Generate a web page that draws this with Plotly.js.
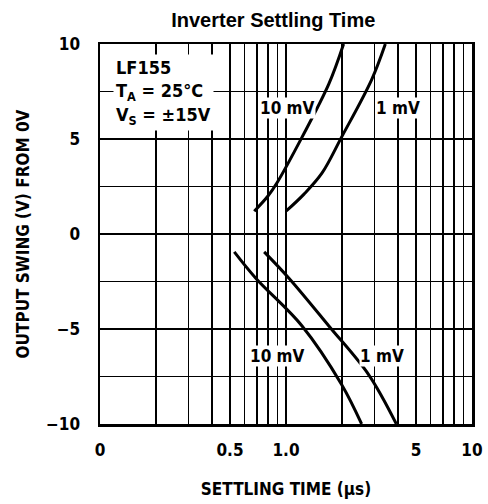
<!DOCTYPE html>
<html>
<head>
<meta charset="utf-8">
<script src="https://cdn.plot.ly/plotly-3.0.1.min.js"></script>
<style>
html,body{margin:0;padding:0;background:#fff;}
</style>
</head>
<body>
<div id="chart" style="width:488px;height:504px;"></div>
<script>
// Data
const upper10mV_x = [0.675, 0.80, 0.895, 1.22, 1.70, 2.04];
const upper10mV_y = [1.2, 2.0, 2.7, 5.1, 7.9, 10];
const upper1mV_x = [1.0, 1.25, 1.56, 1.99, 2.88, 3.42];
const upper1mV_y = [1.2, 2.1, 3.2, 5.1, 8.1, 10];
const lower10mV_x = [0.527, 0.69, 1.22, 1.99, 2.55];
const lower10mV_y = [-0.94, -2.34, -4.84, -7.92, -10];
const lower1mV_x = [0.763, 1.04, 1.70, 2.78, 3.92];
const lower1mV_y = [-0.94, -2.34, -4.84, -7.4, -10];

const xTickVals = [0.1, 0.5, 1, 5, 10];
const xTickText = ["0", "0.5", "1.0", "5", "10"];
const xMinorVals = [0.2,0.3,0.4,0.6,0.7,0.8,0.9,2,3,4,6,7,8,9];
const yTickVals = [-10, -5, 0, 5, 10];
const yTickText = ["\u221210", "\u22125", "0", "5", "10"];

const cond = '"DejaVu Sans Condensed", "DejaVu Sans", sans-serif';
const lineStyle = {color:'#000', width:3, shape:'spline'};

const traces = [
  {x: upper10mV_x, y: upper10mV_y},
  {x: upper1mV_x, y: upper1mV_y},
  {x: lower10mV_x, y: lower10mV_y},
  {x: lower1mV_x, y: lower1mV_y}
].map(t => Object.assign(t, {type:'scatter', mode:'lines', line:lineStyle, hoverinfo:'skip'}));

const lblFont = {family: cond, size: 17, color:'#000'};
function lbl(x, y, t) {
  return {xref:'paper', yref:'paper', x:x, y:y, xanchor:'center', yanchor:'middle',
          text:'<b>'+t+'</b>', showarrow:false, bgcolor:'#fff', font:lblFont, borderpad:0};
}
const layout = {
  width: 488, height: 504,
  margin: {l:100, r:16, t:44, b:80},
  paper_bgcolor:'#fff', plot_bgcolor:'#fff',
  showlegend:false,
  title: {text:'<b>Inverter Settling Time</b>', font:{family:'"Liberation Sans", Arial, sans-serif', size:20, color:'#000'}, x:0.56, xanchor:'center', y:0.96, yanchor:'middle'},
  xaxis: {
    type:'log', range:[-1, 1], tickvals:xTickVals, ticktext:xTickText,
    showgrid:true, gridcolor:'#000', gridwidth:1.5, ticks:'', zeroline:false,
    minor:{tickvals:xMinorVals, showgrid:true, gridcolor:'#000', gridwidth:1.5, ticks:''},
    showline:true, linecolor:'#000', linewidth:2.5, mirror:true,
    ticklabelstandoff:9,
    tickfont:{family:cond, size:17, color:'#000', weight:'bold'},
    title:{text:'<b>SETTLING TIME (\u03bcs)</b>', font:{family:cond, size:17, color:'#000'}, standoff:24}
  },
  yaxis: {
    range:[-10, 10], tickvals:yTickVals, ticktext:yTickText,
    showgrid:true, gridcolor:'#000', gridwidth:1.5, ticks:'', zeroline:false,
    minor:{dtick:2.5, tick0:0, showgrid:true, gridcolor:'#000', gridwidth:1.5, ticks:''},
    showline:true, linecolor:'#000', linewidth:2.5, mirror:true,
    ticklabelstandoff:14,
    tickfont:{family:cond, size:17, color:'#000', weight:'bold'},
    title:{text:'<b>OUTPUT SWING (V) FROM 0V</b>', font:{family:cond, size:17, color:'#000'}, standoff:12}
  },
  annotations: [
    {xref:'paper', yref:'paper', x:0.035, y:0.975, xanchor:'left', yanchor:'top', align:'left',
     text:'<b>LF155</b><br><b>T<sub>A</sub> = 25\u00b0C</b><br><b>V<sub>S</sub> = \u00b115V</b>',
     showarrow:false, bgcolor:'#fff', font:{family:cond, size:18, color:'#000'}, borderpad:2},
    lbl(0.503, 0.832, '10 mV'),
    lbl(0.80, 0.832, '1 mV'),
    lbl(0.476, 0.18, '10 mV'),
    lbl(0.757, 0.18, '1 mV')
  ]
};

Plotly.newPlot('chart', traces, layout, {displayModeBar:false, staticPlot:true});
</script>
</body>
</html>
